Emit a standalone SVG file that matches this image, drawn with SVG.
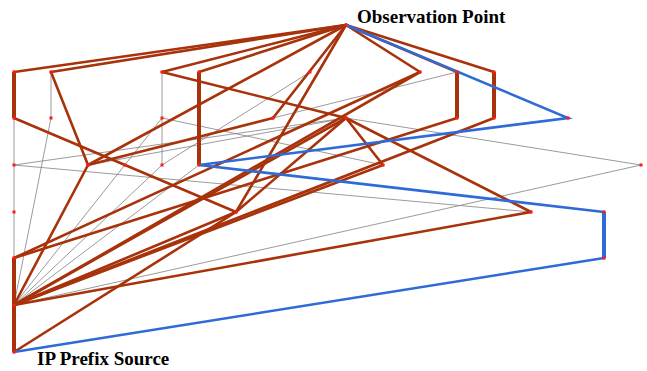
<svg xmlns="http://www.w3.org/2000/svg" width="647" height="371" viewBox="0 0 647 371">
<style>
.g{stroke:#808080;stroke-width:0.8;fill:none}
.b{stroke:#a8320a;stroke-width:2.6;fill:none;stroke-linecap:round}
.bv{stroke:#a8320a;stroke-width:4;fill:none}
.u{stroke:#2e6bd6;stroke-width:2.6;fill:none;stroke-linecap:round}
.uv{stroke:#2e6bd6;stroke-width:4;fill:none}
.n{fill:#ff1a1a}
.t{font-family:"Liberation Serif","Times New Roman",serif;font-weight:bold;font-size:19px;fill:#000}
</style>
<rect width="647" height="371" fill="#fff"/>
<g id="connectors">
<g id="gray">
<path class="g" d="M14,118V258"/>
<path class="g" d="M51,72V118"/>
<path class="g" d="M51,118L14,305"/>
<path class="g" d="M162,72V165"/>
<path class="g" d="M162,118L14,305"/>
<path class="g" d="M162,118L383,165"/>
<path class="g" d="M162,165L310,72"/>
<path class="g" d="M162,165L14,305"/>
<path class="g" d="M199,165L14,305"/>
<path class="g" d="M14,165L531,212"/>
<path class="g" d="M14,165L346,118"/>
<path class="g" d="M346,118L641,165"/>
<path class="g" d="M641,165L14,305"/>
<path class="g" d="M273,118L457,72"/>
<path class="g" d="M88,165L346,118"/>
</g>
<g id="brown">
<path class="b" d="M346,25L14,72"/>
<path class="bv" d="M14,72V118"/>
<path class="b" d="M14,118L236,212"/>
<path class="b" d="M346,25L51,72"/>
<path class="b" d="M51,72L88,165"/>
<path class="b" d="M88,165L14,305"/>
<path class="b" d="M346,25L88,165"/>
<path class="b" d="M346,25L162,72"/>
<path class="b" d="M162,72L346,118"/>
<path class="b" d="M346,25L199,72"/>
<path class="bv" d="M199,72V165"/>
<path class="b" d="M346,25L273,118"/>
<path class="b" d="M273,118L88,165"/>
<path class="b" d="M346,25L236,212"/>
<path class="b" d="M236,212L14,352"/>
<path class="b" d="M236,212L14,305"/>
<path class="b" d="M346,118L236,212"/>
<path class="b" d="M346,25L420,72"/>
<path class="b" d="M420,72L14,305"/>
<path class="b" d="M420,72L14,258"/>
<path class="b" d="M346,25L457,72"/>
<path class="bv" d="M457,72V118"/>
<path class="b" d="M457,118L14,258"/>
<path class="bv" d="M14,258V305"/>
<path class="b" d="M346,25L494,72"/>
<path class="bv" d="M494,72V118"/>
<path class="b" d="M494,118L14,305"/>
<path class="b" d="M346,118L383,165"/>
<path class="b" d="M383,165L14,305"/>
<path class="b" d="M346,118L531,212"/>
<path class="b" d="M531,212L14,305"/>
<path class="b" d="M346,118L14,305"/>
<path class="bv" d="M14,305V352"/>
</g>
<g id="blue">
<path class="u" d="M346,25L568,118L199,165L604,212"/>
<path class="uv" d="M604,212V258"/>
<path class="u" d="M604,258L14,352"/>
</g>
</g>
<g id="node-observation-point"><rect class="n" x="344.5" y="23.5" width="3" height="3"/><text class="t" x="357" y="23">Observation Point</text></g>
<g id="node-ip-prefix-source"><rect class="n" x="12.5" y="350.5" width="3" height="3"/><text class="t" x="37" y="365">IP Prefix Source</text></g>
<g id="node-hub"><rect class="n" x="12.5" y="303.5" width="3" height="3"/></g>
<g id="n-14-72"><rect class="n" x="12.5" y="70.5" width="3" height="3"/></g>
<g id="n-51-72"><rect class="n" x="49.5" y="70.5" width="3" height="3"/></g>
<g id="n-162-72"><rect class="n" x="160.5" y="70.5" width="3" height="3"/></g>
<g id="n-199-72"><rect class="n" x="197.5" y="70.5" width="3" height="3"/></g>
<g id="n-310-72"><rect class="n" x="308.5" y="70.5" width="3" height="3"/></g>
<g id="n-420-72"><rect class="n" x="418.5" y="70.5" width="3" height="3"/></g>
<g id="n-457-72"><rect class="n" x="455.5" y="70.5" width="3" height="3"/></g>
<g id="n-494-72"><rect class="n" x="492.5" y="70.5" width="3" height="3"/></g>
<g id="n-14-118"><rect class="n" x="12.5" y="116.5" width="3" height="3"/></g>
<g id="n-51-118"><rect class="n" x="49.5" y="116.5" width="3" height="3"/></g>
<g id="n-162-118"><rect class="n" x="160.5" y="116.5" width="3" height="3"/></g>
<g id="n-273-118"><rect class="n" x="271.5" y="116.5" width="3" height="3"/></g>
<g id="n-346-118"><rect class="n" x="344.5" y="116.5" width="3" height="3"/></g>
<g id="n-457-118"><rect class="n" x="455.5" y="116.5" width="3" height="3"/></g>
<g id="n-494-118"><rect class="n" x="492.5" y="116.5" width="3" height="3"/></g>
<g id="n-568-118"><rect class="n" x="566.5" y="116.5" width="3" height="3"/></g>
<g id="n-14-165"><rect class="n" x="12.5" y="163.5" width="3" height="3"/></g>
<g id="n-88-165"><rect class="n" x="86.5" y="163.5" width="3" height="3"/></g>
<g id="n-125-165"><rect class="n" x="123.5" y="163.5" width="3" height="3"/></g>
<g id="n-162-165"><rect class="n" x="160.5" y="163.5" width="3" height="3"/></g>
<g id="n-199-165"><rect class="n" x="197.5" y="163.5" width="3" height="3"/></g>
<g id="n-383-165"><rect class="n" x="381.5" y="163.5" width="3" height="3"/></g>
<g id="n-641-165"><rect class="n" x="639.5" y="163.5" width="3" height="3"/></g>
<g id="n-14-212"><rect class="n" x="12.5" y="210.5" width="3" height="3"/></g>
<g id="n-236-212"><rect class="n" x="234.5" y="210.5" width="3" height="3"/></g>
<g id="n-531-212"><rect class="n" x="529.5" y="210.5" width="3" height="3"/></g>
<g id="n-604-212"><rect class="n" x="602.5" y="210.5" width="3" height="3"/></g>
<g id="n-14-258"><rect class="n" x="12.5" y="256.5" width="3" height="3"/></g>
<g id="n-604-258"><rect class="n" x="602.5" y="256.5" width="3" height="3"/></g>
</svg>
